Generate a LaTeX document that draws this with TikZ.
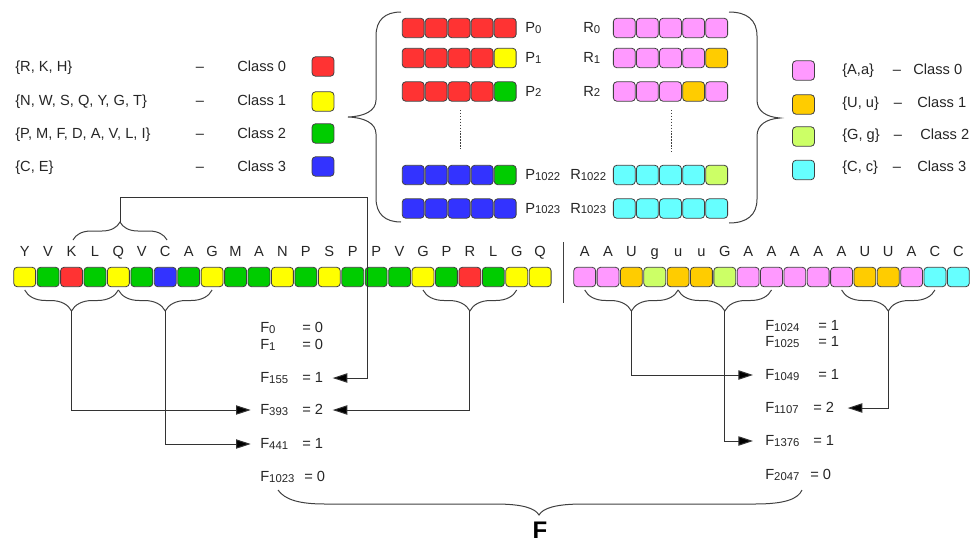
\documentclass[tikz,border=0pt]{standalone}
\usepackage{fontspec}
\setmainfont{Liberation Sans}
\usetikzlibrary{arrows.meta,decorations.pathreplacing,calc}
\definecolor{cR}{HTML}{FF3333}
\definecolor{cY}{HTML}{FFFF00}
\definecolor{cG}{HTML}{00CC00}
\definecolor{cB}{HTML}{3333FF}
\definecolor{cP}{HTML}{FF99FF}
\definecolor{cO}{HTML}{FFCC00}
\definecolor{cL}{HTML}{CCFF66}
\definecolor{cC}{HTML}{66FFFF}
\newcommand{\mysub}[1]{\raisebox{-0.6pt}{\fontsize{8.5}{9}\selectfont #1}}
\begin{document}
\begin{tikzpicture}[x=0.75pt,y=-0.75pt,
  cell/.style={draw=black!75,line width=0.6pt,rounded corners=2.5pt,minimum width=16.4pt,minimum height=14.5pt,inner sep=0pt,fill=#1},
  txt/.style={font=\fontsize{11}{13}\selectfont,inner sep=0pt,text height=7.5pt,text depth=0.5pt,text=black!85},
  ln/.style={draw=black!75,line width=0.75pt},
  arr/.style={draw=black!80,line width=0.75pt,-{Triangle[length=11pt,width=7pt,fill=black]}},
  brc/.style={ln,decorate,decoration={brace,amplitude=#1}}
]
\useasboundingbox (0,0) rectangle (973,543);

% ---------- left legend ----------
\node[txt,anchor=west] (lg0) at (15,67) {\{R, K, H\}};
\node[txt] (ld0) at (200,67) {–};
\node[txt,anchor=west] (lc0) at (237,67) {Class 0};
\node[cell=cR] (lb0) at (323,66.5) {};
\node[txt,anchor=west] (lg1) at (15,101) {\{N, W, S, Q, Y, G, T\}};
\node[txt] (ld1) at (200,101) {–};
\node[txt,anchor=west] (lc1) at (237,101) {Class 1};
\node[cell=cY] (lb1) at (323,101.5) {};
\node[txt,anchor=west] (lg2) at (15,134) {\{P, M, F, D, A, V, L, I\}};
\node[txt] (ld2) at (200,134) {–};
\node[txt,anchor=west] (lc2) at (237,134) {Class 2};
\node[cell=cG] (lb2) at (323,133.5) {};
\node[txt,anchor=west] (lg3) at (15,167) {\{C, E\}};
\node[txt] (ld3) at (200,167) {–};
\node[txt,anchor=west] (lc3) at (237,167) {Class 3};
\node[cell=cB] (lb3) at (323,166.5) {};

% ---------- right legend ----------
\node[cell=cP] (rb0) at (803.5,70.5) {};
\node[txt,anchor=west] (rg0) at (842,70) {\{A,a\}};
\node[txt] (rd0) at (897,70) {–};
\node[txt,anchor=west] (rc0) at (913,70) {Class 0};
\node[cell=cO] (rb1) at (803.5,104.5) {};
\node[txt,anchor=west] (rg1) at (842,103) {\{U, u\}};
\node[txt] (rd1) at (898,103) {–};
\node[txt,anchor=west] (rc1) at (917,103) {Class 1};
\node[cell=cL] (rb2) at (803.5,136.5) {};
\node[txt,anchor=west] (rg2) at (842,135) {\{G, g\}};
\node[txt] (rd2) at (898,135) {–};
\node[txt,anchor=west] (rc2) at (920,135) {Class 2};
\node[cell=cC] (rb3) at (803.5,170) {};
\node[txt,anchor=west] (rg3) at (842,167) {\{C, c\}};
\node[txt] (rd3) at (897,167) {–};
\node[txt,anchor=west] (rc3) at (917,167) {Class 3};

% ---------- top centre: P rows ----------
\foreach \c [count=\k from 0] in {cR,cR,cR,cR,cR} \node[cell=\c] (pa\k) at ({413.2+23*\k},28) {};
\foreach \c [count=\k from 0] in {cR,cR,cR,cR,cY} \node[cell=\c] (pb\k) at ({413.2+23*\k},58) {};
\foreach \c [count=\k from 0] in {cR,cR,cR,cR,cG} \node[cell=\c] (pc\k) at ({413.2+23*\k},91.5) {};
\foreach \c [count=\k from 0] in {cB,cB,cB,cB,cG} \node[cell=\c] (pd\k) at ({413.2+23*\k},175) {};
\foreach \c [count=\k from 0] in {cB,cB,cB,cB,cB} \node[cell=\c] (pe\k) at ({413.2+23*\k},208.5) {};
\node[txt,anchor=west] (pla) at (525,28) {P\mysub{0}};
\node[txt,anchor=west] (plb) at (525,58) {P\mysub{1}};
\node[txt,anchor=west] (plc) at (525,91.5) {P\mysub{2}};
\node[txt,anchor=west] (pld) at (525,175) {P\mysub{1022}};
\node[txt,anchor=west] (ple) at (525,208.5) {P\mysub{1023}};
% R rows
\foreach \c [count=\k from 0] in {cP,cP,cP,cP,cP} \node[cell=\c] (ra\k) at ({624.3+23.1*\k},28) {};
\foreach \c [count=\k from 0] in {cP,cP,cP,cP,cO} \node[cell=\c] (rb\k) at ({624.3+23.1*\k},58) {};
\foreach \c [count=\k from 0] in {cP,cP,cP,cO,cP} \node[cell=\c] (rc\k) at ({624.3+23.1*\k},91.5) {};
\foreach \c [count=\k from 0] in {cC,cC,cC,cC,cL} \node[cell=\c] (rd\k) at ({624.3+23.1*\k},175) {};
\foreach \c [count=\k from 0] in {cC,cC,cC,cC,cC} \node[cell=\c] (re\k) at ({624.3+23.1*\k},208.5) {};
\node[txt,anchor=west] (rla) at (583,28) {R\mysub{0}};
\node[txt,anchor=west] (rlb) at (583,58) {R\mysub{1}};
\node[txt,anchor=west] (rlc) at (583,91.5) {R\mysub{2}};
\node[txt,anchor=west] (rld) at (570,175) {R\mysub{1022}};
\node[txt,anchor=west] (rle) at (570,208.5) {R\mysub{1023}};
\draw[ln,dash pattern=on 1pt off 1.2pt] (460,110) -- (460,150);
\draw[ln,dash pattern=on 1pt off 1.2pt] (671,110) -- (671,153);

% big braces
\draw[ln] (401,12) .. controls (385,12) and (376,20) .. (376,36) -- (376,100) .. controls (376,111) and (364,116.5) .. (348,117) .. controls (364,117.5) and (376,123) .. (376,134) -- (376,198) .. controls (376,214) and (385,222) .. (401,222);
\draw[ln] (729,12) .. controls (747,12) and (757,20) .. (757,36) -- (757,100) .. controls (757,111) and (766,117) .. (780,118) .. controls (766,119) and (757,125) .. (757,136) -- (757,199) .. controls (757,215) and (747,223) .. (729,223);

% ---------- sequences ----------
\foreach \c [count=\i from 0] in {cY,cG,cR,cG,cY,cG,cB,cG,cY,cG,cG,cY,cG,cY,cG,cG,cG,cY,cG,cR,cG,cY,cY}
  \node[cell=\c] (s\i) at ({24.7+23.43*\i},277) {};
\foreach \t [count=\i from 0] in {Y,V,K,L,Q,V,C,A,G,M,A,N,P,S,P,P,V,G,P,R,L,G,Q}
  \node[txt] (st\i) at ({24.7+23.43*\i},252) {\t};
\foreach \c [count=\i from 0] in {cP,cP,cO,cL,cO,cO,cL,cP,cP,cP,cP,cP,cO,cO,cP,cC,cC}
  \node[cell=\c] (r\i) at ({584.7+23.35*\i},277) {};
\foreach \t [count=\i from 0] in {A,A,U,g,u,u,G,A,A,A,A,A,U,U,A,C,C}
  \node[txt] (rt\i) at ({584.7+23.35*\i},252) {\t};
\draw[ln] (563,242) -- (563,303);

% small braces
\draw[brc=13.5pt] (73,240) -- (167,240);
\coordinate (tk) at (120,222);
\draw[brc=15.75pt] (118.4,290) -- (24.7,290);
\coordinate (tb1) at (71.6,311);
\draw[brc=15.75pt] (212.1,290) -- (118.4,290);
\coordinate (tb2) at (165.3,311);
\draw[brc=15.75pt] (516.7,290) -- (423.0,290);
\coordinate (tb3) at (469.8,311);
\draw[brc=15.75pt] (678.1,290) -- (584.7,290);
\coordinate (tr1) at (631.4,311);
\draw[brc=15.75pt] (771.5,290) -- (678.1,290);
\coordinate (tr2) at (724.8,311);
\draw[brc=15.75pt] (934.9,290) -- (841.6,290);
\coordinate (tr3) at (888.2,311);

% ---------- F labels ----------
\node[txt,anchor=west] (f0) at (260,328) {\makebox[31.5pt][l]{F\mysub{0}}= 0};
\node[txt,anchor=west] (f1) at (260,345) {\makebox[31.5pt][l]{F\mysub{1}}= 0};
\node[txt,anchor=west] (f155) at (260,378) {\makebox[31.5pt][l]{F\mysub{155}}= 1};
\node[txt,anchor=west] (f393) at (260,410) {\makebox[31.5pt][l]{F\mysub{393}}= 2};
\node[txt,anchor=west] (f441) at (260,444) {\makebox[31.5pt][l]{F\mysub{441}}= 1};
\node[txt,anchor=west] (f1023) at (260,477) {\makebox[33pt][l]{F\mysub{1023}}= 0};
\node[txt,anchor=west] (f1024) at (765,326) {\makebox[39.75pt][l]{F\mysub{1024}}= 1};
\node[txt,anchor=west] (f1025) at (765,342) {\makebox[39.75pt][l]{F\mysub{1025}}= 1};
\node[txt,anchor=west] (f1049) at (765,375) {\makebox[39.75pt][l]{F\mysub{1049}}= 1};
\node[txt,anchor=west] (f1107) at (765,408) {\makebox[36pt][l]{F\mysub{1107}}= 2};
\node[txt,anchor=west] (f1376) at (765,441) {\makebox[36pt][l]{F\mysub{1376}}= 1};
\node[txt,anchor=west] (f2047) at (765,475) {\makebox[33.75pt][l]{F\mysub{2047}}= 0};

% ---------- connectors ----------
\coordinate (k1) at (367,197);
\draw[arr,shorten >=7pt] (tk) |- (k1) |- (f155.east);
\draw[arr,shorten >=7pt] (tb1) |- (f393.west);
\draw[arr,shorten >=7pt] (tb2) |- (f441.west);
\draw[arr,shorten >=7pt] (tb3) |- (f393.east);
\draw[arr,shorten >=9pt] (tr1) |- (f1049.west);
\draw[arr,shorten >=9pt] (tr2) |- (f1376.west);
\draw[arr,shorten >=10pt] (tr3) |- (f1107.east);

% ---------- bottom brace ----------
\draw[ln] (278,490) .. controls (285,500) and (300,504) .. (325,504) -- (495,504) .. controls (522,504) and (535,508) .. (539,515) .. controls (543,508) and (556,504) .. (583,504) -- (755,504) .. controls (785,504) and (798,499) .. (802,490);
\node[font=\fontsize{18}{18}\selectfont\bfseries,anchor=north,inner sep=0pt] (F) at (540,522) {F};
\end{tikzpicture}
\end{document}
